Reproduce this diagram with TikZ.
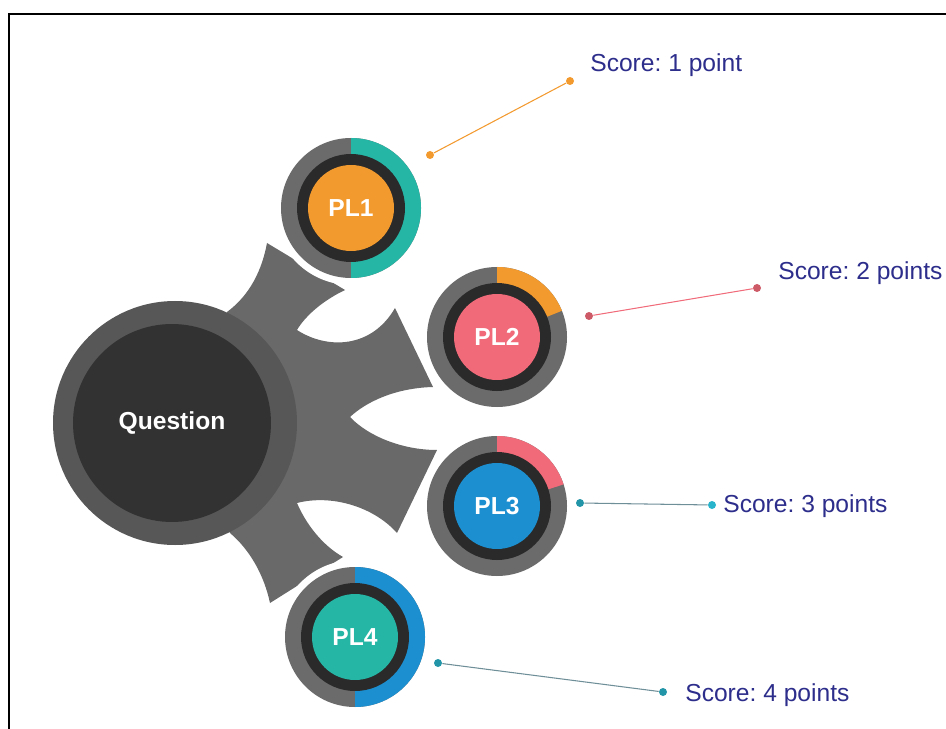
\documentclass[tikz,border=0pt]{standalone}
\usepackage{fontspec}
\setmainfont{Liberation Sans}
\frenchspacing
\definecolor{fangray}{HTML}{696969}
\definecolor{qring}{HTML}{575757}
\definecolor{qdark}{HTML}{323232}
\definecolor{ringgray}{HTML}{6B6B6B}
\definecolor{darkring}{HTML}{2A2A2A}
\definecolor{plorange}{HTML}{F39A2E}
\definecolor{plpink}{HTML}{F06A79}
\definecolor{plblue}{HTML}{1C8FD0}
\definecolor{plteal}{HTML}{25B6A6}
\definecolor{scoreblue}{HTML}{2D2D8C}
\definecolor{tealdot}{HTML}{2395A8}
\definecolor{cyandot}{HTML}{2AB4CC}
\definecolor{tealline}{HTML}{6E8E98}
\tikzset{
  pltext/.style={circle, inner sep=0pt, minimum size=1.72cm, text=white,
    font=\fontsize{14}{16}\selectfont\bfseries},
  scoredot/.style={circle, inner sep=0pt, minimum size=0.16cm},
  scorelabel/.style={anchor=base west, inner sep=0pt, text=scoreblue,
    font=\fontsize{14}{16}\selectfont},
}
\begin{document}
\begin{tikzpicture}[x=0.02cm, y=0.02cm]
            \useasboundingbox (0,0) rectangle (946,-729);
            \draw[line width=1.1pt] (9,-729)--(9,-14)--(946,-14);
            % grey fan behind the question
            \fill[fangray] (227,-312) .. controls (250,-295) and (262,-270) .. (267,-243)
                -- (345,-290)
                .. controls (320,-302) and (304,-318) .. (297,-330)
                .. controls (328,-350) and (372,-348) .. (395,-308)
                -- (433,-387)
                .. controls (395,-388) and (366,-402) .. (350,-417)
                .. controls (368,-436) and (402,-450) .. (437,-450)
                -- (397,-533)
                .. controls (374,-507) and (332,-494) .. (297,-503)
                .. controls (306,-524) and (322,-545) .. (343,-557)
                -- (270,-603)
                .. controls (264,-575) and (250,-550) .. (230,-533)
                -- (175,-423) -- cycle;
            \fill[qring] (175,-423) circle (122);
            \node[circle, fill=qdark, minimum size=3.96cm, text=white,
                  font=\fontsize{14}{16}\selectfont\bfseries] (quest) at (172,-423) {Question};
            % PL1
            \fill[white] (351,-208) circle (77);
            \fill[ringgray] (351,-208) circle (70);
            \fill[plteal] (351,-208) -- (351,-138) arc (90:-90:70) -- cycle;
            \fill[darkring] (351,-208) circle (54);
            \node[pltext, fill=plorange] (pl1) at (351,-208) {PL1};
            % PL2
            \fill[white] (497,-337) circle (77);
            \fill[ringgray] (497,-337) circle (70);
            \fill[plorange] (497,-337) -- (497,-267) arc (90:22:70) -- cycle;
            \fill[darkring] (497,-337) circle (54);
            \node[pltext, fill=plpink] (pl2) at (497,-337) {PL2};
            % PL3
            \fill[white] (497,-506) circle (77);
            \fill[ringgray] (497,-506) circle (70);
            \fill[plpink] (497,-506) -- (497,-436) arc (90:18:70) -- cycle;
            \fill[darkring] (497,-506) circle (54);
            \node[pltext, fill=plblue] (pl3) at (497,-506) {PL3};
            % PL4
            \fill[white] (355,-637) circle (77);
            \fill[ringgray] (355,-637) circle (70);
            \fill[plblue] (355,-637) -- (355,-567) arc (90:-90:70) -- cycle;
            \fill[darkring] (355,-637) circle (54);
            \node[pltext, fill=plteal] (pl4) at (355,-637) {PL4};
            % scores
            \node[scoredot, fill=plorange] (d1a) at (430,-155) {};
            \node[scoredot, fill=plorange] (d1b) at (570,-81) {};
            \draw[plorange, line width=0.6pt] (d1a)--(d1b);
            \node[scorelabel] (s1) at (590,-72) {Score: 1 point};
            \node[scoredot, fill=plpink!85!black] (d2a) at (589,-316) {};
            \node[scoredot, fill=plpink!85!black] (d2b) at (757,-288) {};
            \draw[plpink, line width=0.6pt] (d2a)--(d2b);
            \node[scorelabel] (s2) at (778,-280) {Score: 2 points};
            \node[scoredot, fill=tealdot] (d3a) at (580,-503) {};
            \node[scoredot, fill=cyandot] (d3b) at (712,-505) {};
            \draw[tealline, line width=0.6pt] (d3a)--(d3b);
            \node[scorelabel] (s3) at (723,-512) {Score: 3 points};
            \node[scoredot, fill=tealdot] (d4a) at (438,-663) {};
            \node[scoredot, fill=tealdot] (d4b) at (663,-692) {};
            \draw[tealline, line width=0.6pt] (d4a)--(d4b);
            \node[scorelabel] (s4) at (685,-701) {Score: 4 points};
\end{tikzpicture}
\end{document}
